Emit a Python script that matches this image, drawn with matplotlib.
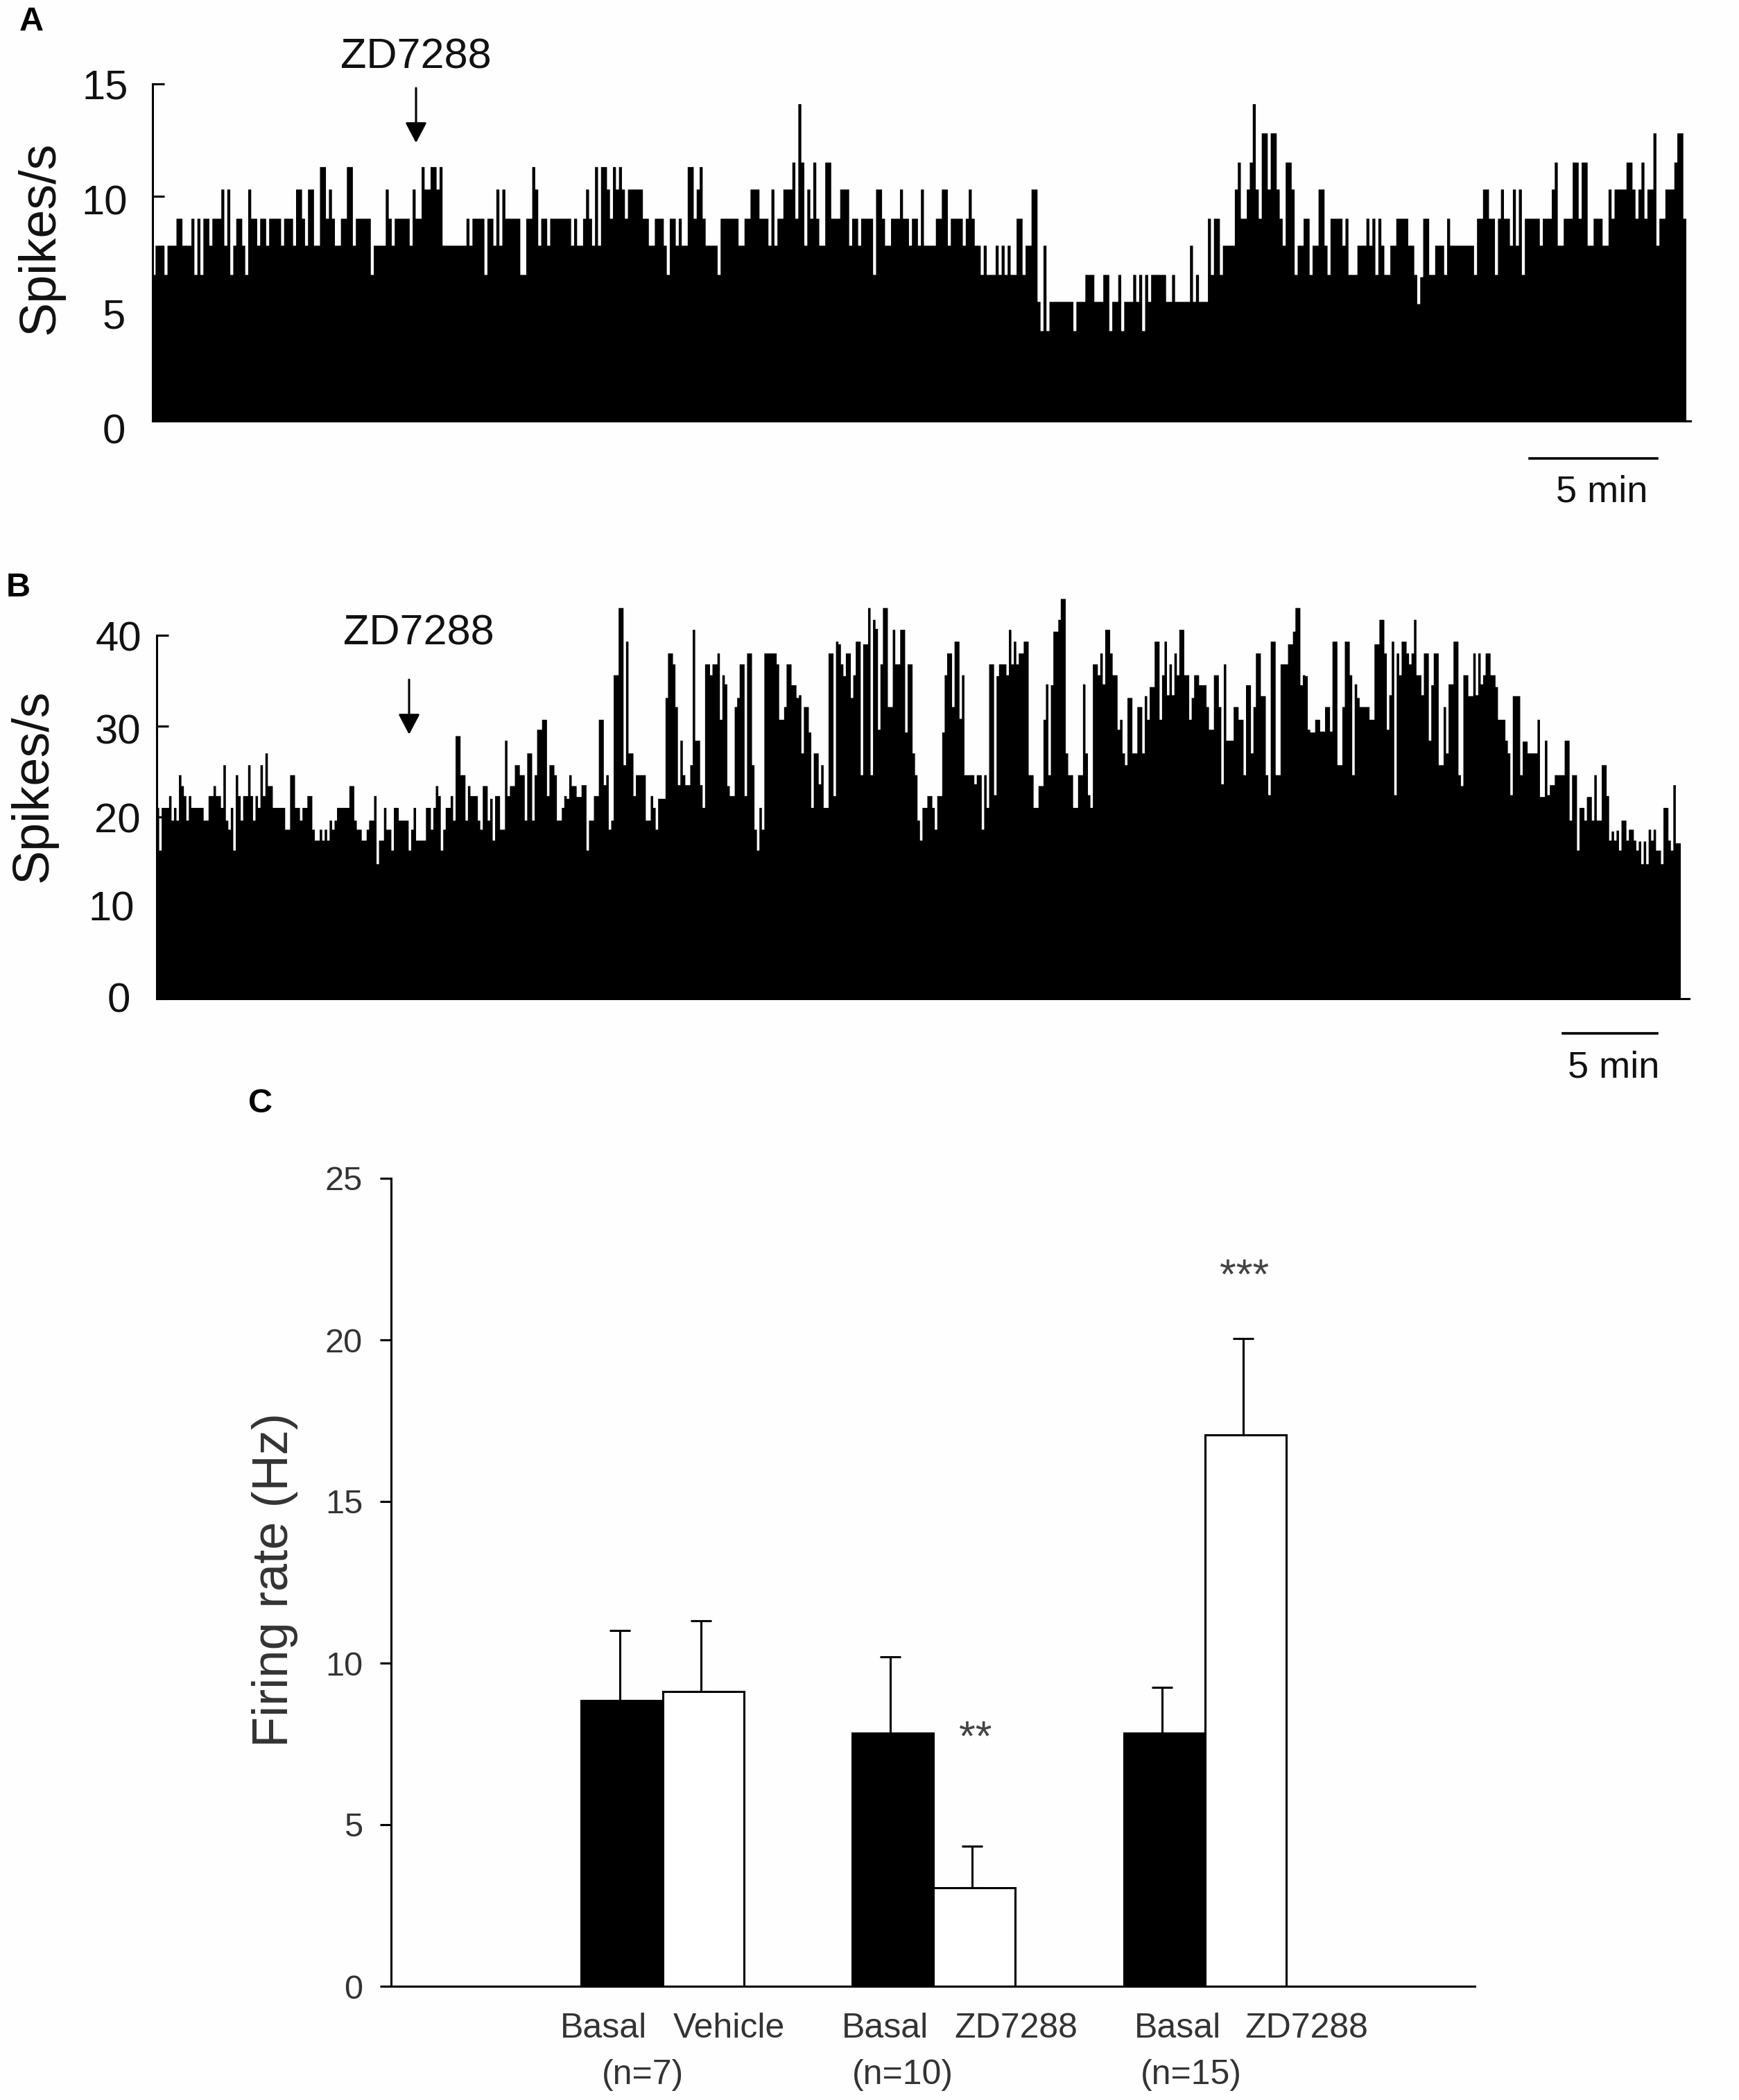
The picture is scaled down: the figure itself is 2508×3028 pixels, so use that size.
import numpy as np
import matplotlib
matplotlib.use("Agg")
import matplotlib.pyplot as plt
from matplotlib.lines import Line2D
from matplotlib.patches import FancyArrowPatch
from matplotlib.transforms import ScaledTranslation

plt.rcParams['font.family'] = ['Liberation Sans', 'DejaVu Sans']

W, H = 2508, 3028

# Panel A firing rate trace: (spikes/s, number of consecutive bins)
trace_a_part1 = [(6.5,1),(7.8,3),(6.5,1),(7.8,3),(9.0,2),(7.8,3),(9.0,1),(6.5,1),(9.0,1),(6.5,1),(9.0,2),(7.8,1),(9.0,3),(10.3,1),(7.8,1),(10.3,1),(6.5,1),(7.8,1),(9.0,2),(7.8,1),(6.5,1),(10.3,1),(9.0,2),(7.8,1),(9.0,2),(7.8,1),(9.0,4),(7.8,1),(9.0,3),(7.8,1),(10.3,2),(9.0,1),(7.8,1),(10.3,2),(7.8,2),(11.3,2),(9.0,1),(10.3,1),(9.0,1),(7.8,2),(9.0,2),(11.3,2),(7.8,1),(9.0,5),(6.5,1),(7.8,4),(10.3,1),(9.0,1),(7.8,1),(9.0,5),(7.8,1),(10.3,1),(9.0,2),(11.3,1),(10.3,2),(11.3,2),(10.3,1),(11.3,1),(7.8,8),(9.0,1),(7.8,1),(9.0,4),(6.5,1),(9.0,2),(7.8,1),(10.3,1),(7.8,1),(10.3,1),(9.0,5),(6.5,2),(9.0,2),(11.3,1),(10.3,1),(7.8,1),(9.0,2),(7.8,1),(9.0,7),(7.8,1),(9.0,1),(7.8,2),(9.0,1),(10.3,1),(9.0,1),(7.8,1),(11.3,1),(7.8,1),(11.3,2),(10.3,1),(9.0,1),(11.3,1),(10.3,1),(11.3,1),(10.3,1),(9.0,1),(10.3,5),(9.0,2),(7.8,2),(9.0,3),(7.8,1)]
trace_a_part2 = [(6.5,1),(9.0,2),(7.8,1),(9.0,1),(7.8,2),(11.3,2),(9.0,1),(10.3,1),(11.3,1),(9.0,1),(7.8,4),(6.5,1),(9.0,6),(7.8,2),(9.0,2),(10.3,3),(9.0,3),(7.8,1),(10.3,1),(7.8,1),(9.0,2),(10.3,3),(11.5,1),(9.0,1),(14.1,1),(11.5,1),(7.8,1),(10.3,1),(9.0,1),(11.5,1),(9.0,1),(7.8,2),(11.5,2),(9.0,3),(10.3,3),(7.8,1),(9.0,2),(7.8,1),(9.0,4),(6.5,1),(10.3,2),(9.0,1),(7.8,2),(9.0,3),(10.3,1),(9.0,2),(7.8,1),(9.0,2),(7.8,1),(10.3,1),(7.8,4),(9.0,2),(10.3,2),(7.8,1),(9.0,4),(7.8,1),(9.0,1),(10.3,1),(9.0,1),(7.8,2),(6.5,1),(7.8,1),(6.5,3),(7.8,1),(6.5,1),(7.8,1),(6.5,1),(7.8,1),(6.5,2),(9.0,2),(6.5,1),(7.8,2),(10.3,2),(5.3,1),(4.0,1),(7.8,1),(4.0,1),(5.3,8),(4.0,1),(5.3,3),(6.5,3),(5.3,3),(6.5,2),(4.0,1),(5.3,2),(6.5,1),(4.0,1),(5.3,3),(6.5,1),(5.3,1),(6.5,1),(4.0,1),(6.5,1),(5.3,1),(6.5,1),(6.5,1),(6.5,3),(5.3,2),(6.5,1),(5.3,4)]
trace_a_part3 = [(5.3,1),(7.8,1),(5.3,1),(6.5,1),(5.3,3),(9.0,1),(6.5,1),(9.0,2),(6.5,1),(7.8,4),(10.3,1),(11.5,1),(9.0,2),(10.3,1),(11.5,1),(14.1,1),(10.3,1),(9.0,1),(12.8,2),(10.3,1),(12.8,2),(10.3,1),(9.0,1),(7.8,1),(11.5,2),(10.3,1),(6.5,1),(7.8,2),(9.0,2),(6.5,1),(7.8,2),(10.3,2),(7.8,1),(6.5,1),(9.0,4),(7.8,1),(9.0,1),(6.5,3),(7.8,3),(9.0,1),(7.8,1),(9.0,1),(6.5,1),(9.0,1),(7.8,1),(6.5,2),(7.8,2),(9.0,4),(7.8,2),(6.5,1),(5.2,1),(6.4,1),(9.0,2),(6.5,2),(7.8,3),(6.5,1),(9.0,1),(7.8,8),(6.5,1),(9.0,2),(10.3,2),(9.0,2),(6.5,1),(9.0,1),(10.3,1),(9.0,2),(7.8,1),(10.3,1),(7.8,1),(10.3,1),(6.5,1),(9.0,5),(7.8,1),(9.0,3),(10.3,1),(11.5,1),(7.8,2),(9.0,3),(11.5,2),(9.0,1),(11.5,2),(7.8,2),(9.0,3),(7.8,2),(10.3,1),(9.0,1),(10.3,4),(11.5,2),(10.3,1),(9.0,1),(10.3,1),(11.5,1),(9.0,1),(10.3,2),(12.8,1),(7.8,1),(9.0,2),(10.3,3),(11.5,1),(12.8,2),(9.0,1)]

# Panel B firing rate trace
trace_b_part1 = [(21.0,1),(16.3,1),(21.0,3),(22.3,1),(19.6,1),(21.0,1),(19.6,1),(24.6,1),(23.4,1),(22.3,1),(19.6,1),(22.3,1),(21.0,5),(19.6,2),(22.3,2),(23.4,1),(22.3,2),(21.0,1),(25.7,1),(19.6,1),(18.6,1),(21.0,1),(16.3,1),(24.6,1),(22.3,1),(19.6,1),(22.3,2),(25.7,1),(22.3,1),(19.6,1),(22.3,1),(21.0,1),(25.7,1),(22.3,1),(27.0,1),(23.4,2),(21.0,5),(18.6,2),(24.6,2),(21.0,2),(19.6,1),(21.0,2),(22.3,2),(18.6,1),(17.4,2),(18.6,1),(17.4,1),(18.6,1),(17.4,1),(19.6,1),(18.6,1),(19.6,1),(21.0,5),(23.4,2),(19.6,1),(18.6,2),(17.4,2),(18.6,1),(19.6,2),(22.3,1),(14.8,1),(17.4,2),(21.0,1),(18.6,2),(16.3,1),(21.0,2),(19.6,4),(16.3,1),(18.6,1),(21.0,1),(17.4,4),(21.0,2),(18.6,1),(21.0,1),(23.4,1),(22.3,1),(16.3,1),(18.6,1),(21.0,2),(22.3,1),(19.6,1),(28.9,2),(24.6,2),(19.6,1),(23.4,1),(22.3,3),(19.6,1),(18.6,1),(23.4,2),(19.6,1),(22.0,1),(17.4,1),(22.3,2),(18.6,2),(28.4,1),(22.3,1),(23.4,2),(25.7,2),(24.6,2),(19.6,1),(27.0,2),(19.6,1),(24.6,1)]
trace_b_part2 = [(29.6,2),(30.7,2),(22.3,1),(25.7,2),(24.6,1),(19.6,2),(21.0,1),(22.3,1),(22.0,1),(24.6,1),(23.4,2),(22.2,2),(23.5,2),(16.3,1),(19.6,2),(22.3,2),(30.7,2),(23.5,1),(24.6,1),(18.6,1),(19.6,1),(35.6,2),(43.0,2),(25.7,1),(39.3,1),(27.0,2),(22.3,1),(24.6,4),(19.6,2),(22.3,1),(21.0,1),(18.6,1),(22.0,3),(33.1,1),(38.0,2),(36.8,1),(32.1,1),(23.5,1),(28.4,1),(24.6,1),(23.5,2),(25.7,1),(40.6,1),(28.4,2),(23.5,1),(21.0,1),(36.8,2),(35.6,1),(36.8,2),(38.0,1),(30.7,1),(35.6,1),(34.6,1),(23.4,1),(22.3,2),(32.1,1),(33.1,1),(36.8,2),(22.3,1),(38.0,2),(25.7,1),(18.6,1),(16.3,1),(21.0,1),(18.6,1),(38.0,5),(36.8,1),(30.7,2),(32.1,1),(36.8,2),(34.5,2),(33.1,1),(33.4,1),(27.0,1),(32.1,2),(29.3,1),(21.0,1),(27.0,2),(23.6,1),(25.7,1),(21.0,2),(38.0,2),(22.3,1),(39.3,1),(39.0,1),(36.8,1),(35.5,1),(38.0,2),(33.1,1),(35.6,1),(39.3,2),(24.6,1),(39.0,2),(43.0,1),(24.6,1),(41.7,1),(40.7,1),(29.6,1),(36.8,1),(43.0,2),(32.1,2),(40.6,1),(36.8,2),(40.6,2),(29.3,1),(36.8,2),(27.0,1),(24.6,1),(19.6,1),(17.4,1)]
trace_b_part3 = [(21.0,2),(22.3,2),(21.0,1),(18.6,1),(22.3,2),(29.3,1),(35.6,1),(38.0,2),(32.1,1),(39.3,2),(30.8,1),(35.6,1),(24.6,4),(23.6,1),(24.6,2),(18.6,1),(24.6,1),(21.0,1),(36.8,2),(22.4,1),(35.5,1),(36.8,3),(35.6,1),(40.6,1),(36.8,1),(39.3,1),(36.8,1),(38.0,2),(39.3,2),(24.6,2),(21.0,2),(23.4,2),(30.7,1),(34.6,1),(24.6,1),(34.5,1),(40.4,2),(41.7,1),(44.0,2),(27.0,1),(24.6,2),(21.0,2),(24.6,2),(34.6,1),(27.0,1),(22.4,1),(21.0,1),(36.8,2),(35.6,1),(38.0,1),(34.6,1),(40.6,2),(38.0,1),(35.6,2),(29.6,1),(30.7,1),(27.0,1),(25.7,1),(33.1,2),(27.0,2),(32.1,2),(27.0,1),(33.3,1),(30.7,1),(34.3,2),(39.3,2),(30.7,1),(35.6,1),(39.3,1),(33.4,1),(36.8,1),(33.4,1),(38.0,1),(35.6,1),(40.6,2),(35.6,2),(30.7,1),(33.1,1),(35.6,2),(34.5,1),(34.5,2),(32.1,1),(29.6,2),(35.6,2),(32.1,1),(23.6,1),(36.8,1),(28.4,3),(32.1,2),(30.7,2),(24.6,1),(34.5,2),(27.0,1),(32.1,1),(38.0,2),(33.3,2),(24.6,1),(22.4,1),(39.3,2),(24.6,2),(36.8,3),(39.0,2),(40.4,1),(43.0,2),(34.5,1),(35.6,1)]
trace_b_part4 = [(35.5,1),(29.6,1),(29.3,2),(30.7,2),(29.4,2),(32.1,2),(29.4,1),(39.3,2),(25.7,2),(32.1,1),(39.3,2),(35.6,1),(24.6,1),(34.6,1),(33.1,1),(32.1,4),(30.7,2),(39.0,2),(41.7,2),(38.0,1),(29.6,1),(33.4,1),(39.3,1),(22.4,1),(38.0,1),(35.6,1),(39.3,2),(38.0,1),(36.8,1),(38.0,1),(41.7,1),(35.6,2),(33.4,1),(38.0,2),(28.4,1),(34.5,1),(38.0,2),(25.7,2),(32.1,1),(27.0,1),(34.6,2),(39.3,2),(24.6,1),(23.4,1),(35.6,2),(33.3,2),(38.0,1),(33.4,1),(38.0,1),(34.6,1),(35.6,1),(38.0,2),(35.6,2),(34.3,1),(30.7,3),(28.4,1),(27.0,1),(22.4,1),(33.3,3),(24.6,1),(28.3,2),(27.0,4),(30.7,1),(22.2,2),(28.4,1),(22.4,1),(23.5,2),(24.6,4),(28.4,2),(19.6,1),(24.6,2),(16.3,1),(21.0,2),(19.6,1),(22.2,2),(19.6,1),(24.6,1),(19.6,2),(25.7,2),(22.3,1),(17.4,1),(18.4,1),(17.4,1),(18.5,1),(16.3,1),(19.6,2),(17.4,1),(18.6,2),(17.4,1),(16.3,1),(17.3,1),(14.8,1),(17.3,1),(14.8,1),(18.6,1),(17.4,1),(18.6,1),(16.3,2),(14.8,1),(21.0,2),(17.4,1),(16.3,1),(23.5,1),(17.1,2)]

# Panel C group means and upper error bars
conditions = ['Basal', 'Vehicle', 'Basal', 'ZD7288', 'Basal', 'ZD7288']
group_labels = ['(n=7)', '(n=10)', '(n=15)']
firing_rate = [8.84, 9.12, 7.84, 3.05, 7.84, 17.06]
firing_sem = [2.17, 2.19, 2.36, 1.29, 1.40, 2.98]
bar_slots = [2.84, 3.84, 6.17, 7.17, 9.51, 10.51]
bar_colors = ['black', 'white', 'black', 'white', 'black', 'white']
ticks_a = [0, 5, 10, 15]
ticks_b = [0, 10, 20, 30, 40]
ticks_c = [0, 5, 10, 15, 20, 25]


def expand(*parts):
    pairs = [p for part in parts for p in part]
    return np.repeat([p[0] for p in pairs], [p[1] for p in pairs])


def px(x, y):
    return x / W, 1 - y / H


def make_axes(l, r, top, bottom):
    return fig.add_axes([l / W, 1 - bottom / H, (r - l) / W, (bottom - top) / H])


fig = plt.figure(figsize=(W / 100, H / 100), dpi=100, facecolor='#fefefe')


def label_offsets(ax, offsets):
    for lab, (dx, dy) in zip(ax.get_yticklabels(), offsets):
        lab.set_transform(lab.get_transform() + ScaledTranslation(dx / 100, dy / 100, fig.dpi_scale_trans))


def trace_panel(vals, l, r_bars, r_axis, top, bottom, ymax, ticks, offsets, pad):
    ax = make_axes(l, r_axis, top, bottom)
    n = len(vals)
    ax.stairs(vals, np.arange(n + 1), fill=True, color='black', linewidth=0, baseline=0, clip_on=False)
    ax.set_xlim(0, n * (r_axis - l) / (r_bars - l))
    ax.set_ylim(0, ymax)
    ax.patch.set_alpha(0)
    for s in ('top', 'right'):
        ax.spines[s].set_visible(False)
    for s in ('left', 'bottom'):
        ax.spines[s].set_linewidth(2.2)
    ax.set_xticks([])
    ax.set_yticks(ticks)
    ax.set_yticklabels([str(t) for t in ticks], fontsize=43, color='#111111')
    ax.tick_params(axis='y', direction='in', length=12.5, width=2.2, pad=pad)
    label_offsets(ax, offsets)
    return ax


def arrow(x, y0, y1):
    fig.add_artist(FancyArrowPatch(px(x, y0), px(x, y1), transform=fig.transFigure,
                                   arrowstyle='-|>,head_length=18,head_width=9.5', mutation_scale=1,
                                   shrinkA=0, shrinkB=0, color='black', linewidth=2.2))


def scale_bar(x0, x1, y):
    fig.add_artist(Line2D([x0 / W, x1 / W], [1 - y / H] * 2, transform=fig.transFigure, color='black', linewidth=2.6))


def txt(x, y, s, size, **kw):
    fx, fy = px(x, y + (0 if 'rotation' in kw else 4))
    kw.setdefault('color', '#111111')
    fig.text(fx, fy, s, fontsize=size, ha=kw.pop('ha', 'center'), va=kw.pop('va', 'center'), **kw)


# Panel A
trace_panel(expand(trace_a_part1, trace_a_part2, trace_a_part3), 220, 2432, 2438, 121, 607, 15, ticks_a,
            [(-2, -11), (-2, -7), (2, -5), (2, 0)], 27)
txt(45, 28, 'A', 35, fontweight='bold', color='black')
txt(58, 343, 'Spikes/s', 53, rotation=90)
txt(600, 79, 'ZD7288', 44)
arrow(600, 127, 206)
scale_bar(2206, 2390, 661)
txt(2310, 706, '5 min', 39)

# Panel B
trace_panel(expand(trace_b_part1, trace_b_part2, trace_b_part3, trace_b_part4), 226, 2424, 2436, 916, 1440, 40, ticks_b,
            [(-16, 2), (-10, 3), (-1, -1), (0, -4), (0, -1)], 16)
txt(26, 843, 'B', 35, fontweight='bold', color='black')
txt(48, 1133, 'Spikes/s', 53, rotation=90)
txt(604, 910, 'ZD7288', 44)
arrow(590, 980, 1059)
scale_bar(2254, 2390, 1490)
txt(2327, 1536, '5 min', 39)

# Panel C
axc = make_axes(564, 2127, 1699, 2864)
axc.bar(bar_slots, firing_rate, width=1.0, color=bar_colors, edgecolor='black', linewidth=2.2, zorder=2)
axc.errorbar(np.array(bar_slots) - 0.03, firing_rate, yerr=[np.zeros(6), firing_sem], fmt='none', ecolor='black',
             elinewidth=2.2, capsize=11, capthick=2.2, zorder=1)
axc.set_xlim(0, 1563 / 117.3)
axc.set_ylim(0, 25)
axc.patch.set_alpha(0)
for s in ('top', 'right'):
    axc.spines[s].set_visible(False)
for s in ('left', 'bottom'):
    axc.spines[s].set_linewidth(2.2)
axc.set_xticks([])
axc.set_yticks(ticks_c)
axc.set_yticklabels([str(t) for t in ticks_c], fontsize=35, color='#333333')
axc.tick_params(axis='y', direction='out', length=11.5, width=2.2, pad=18)

txt(376, 1588, 'C', 35, fontweight='bold', color='black')
txt(396, 2278, 'Firing rate (Hz)', 52, rotation=90, color='#333333')
txt(1407, 2504, '**', 44, color='#444444')
txt(1795, 1838, '***', 44, color='#444444')
for x, s in zip([871, 1051, 1276, 1465, 1698, 1884], conditions):
    txt(x, 2921, s, 36, color='#333333')
for x, s in zip([927, 1302, 1718], group_labels):
    txt(x, 2988, s, 36, color='#333333')

fig.savefig('out.png', dpi=100, facecolor=fig.get_facecolor())
